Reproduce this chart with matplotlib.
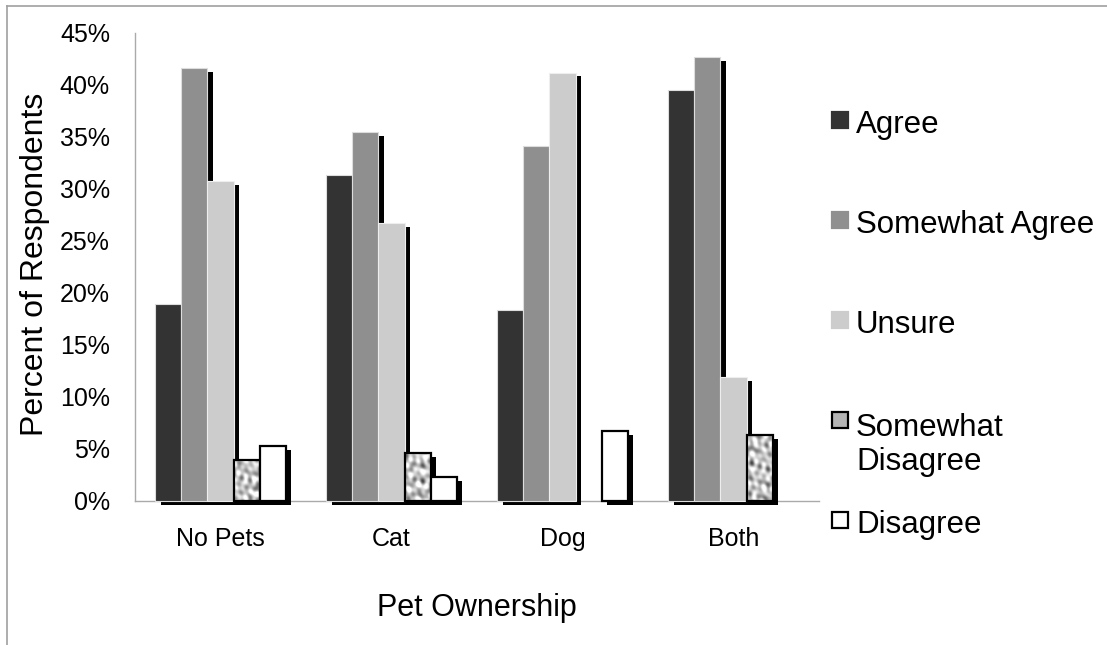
import numpy as np
import matplotlib.pyplot as plt
from matplotlib.patches import Rectangle
from matplotlib.lines import Line2D

plt.rcParams['font.family'] = ['Liberation Sans', 'DejaVu Sans']

categories = ['No Pets', 'Cat', 'Dog', 'Both']
series = ['Agree', 'Somewhat Agree', 'Unsure', 'Somewhat\nDisagree', 'Disagree']
agree = [18.9, 31.3, 18.4, 39.5]
somewhat_agree = [41.6, 35.5, 34.1, 42.7]
unsure = [30.8, 26.7, 41.2, 11.9]
somewhat_disagree = [3.9, 4.6, 0.0, 6.3]
disagree = [5.3, 2.3, 6.7, 0.0]
values = [agree, somewhat_agree, unsure, somewhat_disagree, disagree]
yticks = [0, 5, 10, 15, 20, 25, 30, 35, 40, 45]

faces = ['#333333', '#8f8f8f', '#cccccc', 'none', 'white']
edges = ['#dddddd', '#dddddd', '#eeeeee', 'black', 'black']
widths = [0.8, 0.8, 0.8, 1.6, 1.6]

W, H = 1107, 645
fig = plt.figure(figsize=(W / 100, H / 100), dpi=100)
ax = fig.add_axes([135 / W, 1 - 501 / H, (819 - 135) / W, (501 - 33) / H])

x = np.arange(len(categories))
bw = 0.153
dx = 5.5 / 171     # shadow offset to the right
dy = 0.38          # shadow offset down (in %)


def texture(h=470, w=690):
    # mottled "granite" fill, built from crossing waves of a few px wavelength
    yy, xx = np.mgrid[0:h, 0:w].astype(float)
    waves = [(0.0, 8.3, 0.0), (0.61, 10.1, 1.1), (1.27, 7.2, 2.3),
             (1.93, 12.7, 0.7), (2.49, 9.3, 1.9), (0.33, 6.3, 2.9),
             (1.61, 14.9, 0.4), (2.81, 7.9, 3.7), (0.97, 11.3, 5.1)]
    z = np.zeros_like(xx)
    for ang, k, ph in waves:
        z += np.sin(2 * np.pi * (np.cos(ang) * xx + np.sin(ang) * yy) / k + ph)
    return z


tex = texture()

for i, vals in enumerate(values):
    vals = np.array(vals)
    pos = x - 2 * bw + i * bw
    keep = vals > 0
    # shadow
    ax.bar(pos[keep] + dx, vals[keep], width=bw, bottom=-dy, color='black',
           linewidth=0, zorder=3 + 2 * i, clip_on=False)
    bars = ax.bar(pos[keep], vals[keep], width=bw, color=faces[i], edgecolor=edges[i],
                  linewidth=widths[i], zorder=4 + 2 * i, clip_on=False)
    if i == 3:
        for b in bars:
            im = ax.imshow(tex, cmap='gray', vmin=-10.5, vmax=3.0, aspect='auto',
                           extent=[-0.5, 3.5, 0, 45], origin='lower',
                           zorder=4 + 2 * i - 0.5, interpolation='bilinear')
            im.set_clip_path(b)

ax.set_xlim(-0.5, len(categories) - 0.5)
ax.set_ylim(0, 45)
ax.set_yticks(yticks)
ax.set_yticklabels([f'{t}%' for t in yticks], fontsize=18)
ax.set_xticks(x)
ax.set_xticklabels(categories, fontsize=18)
ax.tick_params(axis='y', length=0, pad=18)
ax.tick_params(axis='x', length=0, pad=19)
for s in ['top', 'right']:
    ax.spines[s].set_visible(False)
for s in ['left', 'bottom']:
    ax.spines[s].set_color('#aaaaaa')
    ax.spines[s].set_linewidth(1.0)
    ax.spines[s].set_zorder(1)

fig.text(35 / W, 1 - 264 / H, 'Percent of Respondents', rotation=90,
         fontsize=23, ha='center', va='center')
fig.text(477 / W, 1 - 608 / H, 'Pet Ownership', fontsize=22, ha='center', va='center')

# legend
leg_base = [133, 233, 333, 433, 533]
for i, name in enumerate(series):
    yb = leg_base[i]
    fc = '#b5b5b5' if i == 3 else faces[i]
    ec = 'black' if i >= 3 else fc
    fig.patches.append(Rectangle((832 / W, 1 - (yb - 5) / H), 16 / W, 16 / H,
                                 facecolor=fc, edgecolor=ec, linewidth=1.6,
                                 transform=fig.transFigure, figure=fig))
    ty = yb + 37 * name.count('\n')
    fig.text(856 / W, 1 - ty / H, name, fontsize=22.5, ha='left', va='baseline',
             linespacing=1.18)

# outer frame
fig.add_artist(Line2D([7 / W, 1], [1 - 6 / H, 1 - 6 / H], color='#a0a0a0', lw=1.2))
fig.add_artist(Line2D([7 / W, 7 / W], [0, 1 - 6 / H], color='#a0a0a0', lw=1.2))

fig.savefig('out.png', dpi=100)
